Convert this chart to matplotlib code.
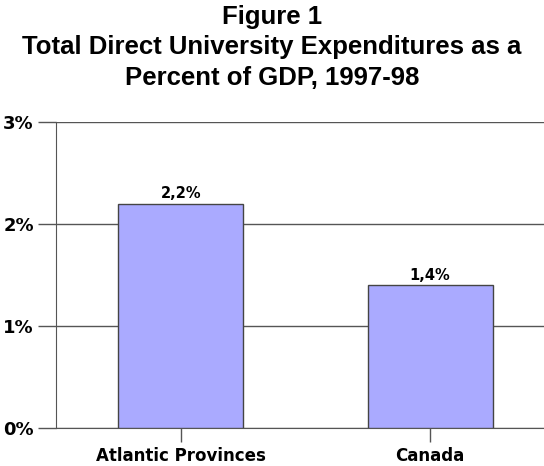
import matplotlib
matplotlib.use('Agg')
import matplotlib.pyplot as plt
from matplotlib.ticker import FuncFormatter

# Expenditures as share of GDP, 1997-98
regions = ['Atlantic Provinces', 'Canada']
pct_gdp = [2.2, 1.4]
y_ticks = [0, 1, 2, 3]

fig = plt.figure(figsize=(5.44, 4.66), dpi=100)
# axes run slightly past the right edge so the gridlines bleed off the figure
ax = fig.add_axes([0.103, 0.0815, 0.917, 0.657])

x = range(len(regions))
ax.bar(x, pct_gdp, width=0.5, color='#aaaaff', edgecolor='#444444', linewidth=1, zorder=3)

for xi, v in zip(x, pct_gdp):
    ax.text(xi, v + 0.02, f'{v:.1f}%'.replace('.', ','), ha='center', va='bottom',
            fontsize=10.5, fontweight='bold', family='DejaVu Sans')

ax.set_xlim(-0.5, 1.5)
ax.set_ylim(0, 3)
ax.set_yticks(y_ticks)
ax.yaxis.set_major_formatter(FuncFormatter(lambda v, p: f'{v:.0f}%'))
ax.set_xticks(list(x))
ax.set_xticklabels(regions, fontsize=12, fontweight='bold', family='DejaVu Sans')
for lbl in ax.get_yticklabels():
    lbl.set_fontweight('bold')
    lbl.set_fontsize(13)
    lbl.set_family('DejaVu Sans')

ax.grid(axis='y', color='#555555', linewidth=1, zorder=0)
ax.tick_params(axis='y', length=13, width=1, color='#555555', pad=3)
ax.tick_params(axis='x', length=10, width=1, color='#555555', pad=4)
for side in ['top', 'right']:
    ax.spines[side].set_visible(False)
ax.spines['left'].set_color('#555555')
ax.spines['bottom'].set_color('#555555')

fig.text(0.5, 0.99, 'Figure 1\nTotal Direct University Expenditures as a\nPercent of GDP, 1997-98',
         ha='center', va='top', fontsize=18.5, fontweight='bold', family='Liberation Sans',
         linespacing=1.35)

fig.savefig('out.png', dpi=100)
